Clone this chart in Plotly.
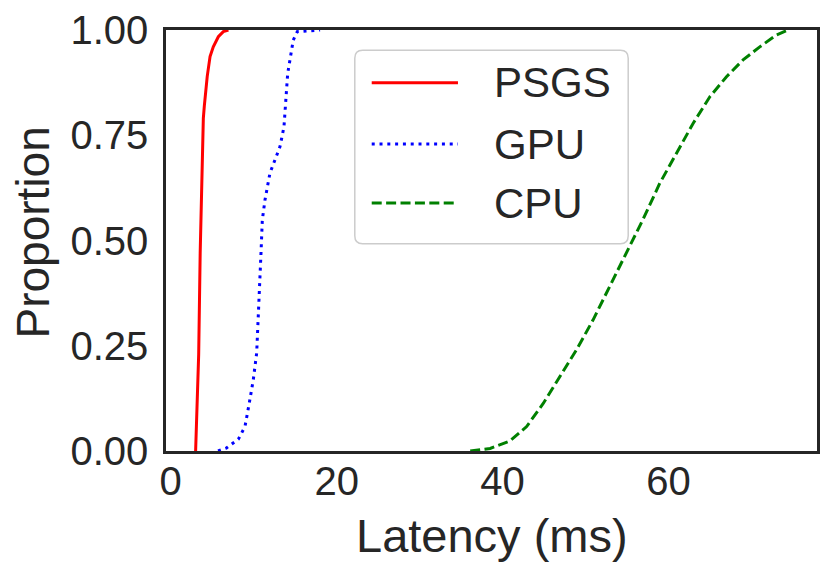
import plotly.graph_objects as go

# ECDF curves (latency in ms, cumulative proportion)
psgs_x = [3.0, 3.1, 3.25, 3.37, 3.55, 3.73, 3.93, 4.05, 4.2, 4.4, 4.74, 5.13, 5.74, 6.34, 6.95]
psgs_y = [0.0, 0.08, 0.16, 0.23, 0.47, 0.63, 0.79, 0.82, 0.85, 0.89, 0.937, 0.96, 0.984, 0.996, 1.0]

gpu_x = [5.7, 6.7, 8.15, 8.95, 9.47, 9.95, 10.36, 10.56, 10.76, 10.88, 11.04, 11.36,
         11.96, 12.57, 13.17, 13.65, 13.9, 14.1, 14.5, 14.77, 15.25, 18.0]
gpu_y = [0.0, 0.007, 0.028, 0.058, 0.114, 0.169, 0.233, 0.311, 0.39, 0.47, 0.549, 0.596,
         0.66, 0.69, 0.723, 0.77, 0.834, 0.897, 0.944, 0.976, 0.996, 1.0]

cpu_x = [36.1, 38.5, 40.9, 42.9, 44.9, 46.9, 48.9, 50.9, 52.9, 54.9, 56.9, 58.95,
         60.96, 62.96, 65.0, 66.99, 68.99, 71.0, 73.0, 74.4]
cpu_y = [0.0, 0.006, 0.024, 0.058, 0.113, 0.176, 0.24, 0.311, 0.39, 0.47, 0.549, 0.636,
         0.707, 0.778, 0.842, 0.889, 0.929, 0.96, 0.988, 1.0]

series_names = ["PSGS", "GPU", "CPU"]
x_ticks = [0, 20, 40, 60]
y_ticks = [0.0, 0.25, 0.5, 0.75, 1.0]

INK = "#262626"
FONT = "Liberation Sans, Arial, sans-serif"

styles = [
    dict(color="#ff0000", width=3, dash="solid"),
    dict(color="#0000ff", width=3, dash="3px,4.8px"),
    dict(color="#008000", width=3, dash="10px,4.4px"),
]

fig = go.Figure()
for name, xs, ys, st in zip(series_names, [psgs_x, gpu_x, cpu_x], [psgs_y, gpu_y, cpu_y], styles):
    fig.add_trace(go.Scatter(x=xs, y=ys, mode="lines", name=name, line=st, showlegend=False))

# hand-made legend (rounded box, long line samples like matplotlib)
bx0, bx1, by0, by1 = 0.290, 0.710, 0.492, 0.952
rx, ry = 0.012, 0.019
box_path = (
    f"M {bx0 + rx},{by1} L {bx1 - rx},{by1} Q {bx1},{by1} {bx1},{by1 - ry} "
    f"L {bx1},{by0 + ry} Q {bx1},{by0} {bx1 - rx},{by0} "
    f"L {bx0 + rx},{by0} Q {bx0},{by0} {bx0},{by0 + ry} "
    f"L {bx0},{by1 - ry} Q {bx0},{by1} {bx0 + rx},{by1} Z"
)
shapes = [dict(type="path", path=box_path, xref="paper", yref="paper",
               fillcolor="rgba(255,255,255,0.8)", line=dict(color="#cccccc", width=1.5), layer="above")]
annotations = []
entry_y = [0.875, 0.729, 0.589]
for name, st, ey in zip(series_names, styles, entry_y):
    shapes.append(dict(type="line", xref="paper", yref="paper", x0=0.316, x1=0.4485, y0=ey, y1=ey,
                       line=st, layer="above"))
    annotations.append(dict(text=name, xref="paper", yref="paper", x=0.5, y=ey,
                            xanchor="left", yanchor="middle", showarrow=False,
                            font=dict(size=42, color=INK, family=FONT)))

annotations.append(dict(text="Latency (ms)", xref="paper", yref="paper", x=0.5, y=-0.2,
                        xanchor="center", yanchor="middle", showarrow=False,
                        font=dict(size=47, color=INK, family=FONT)))
annotations.append(dict(text="Proportion", xref="paper", yref="paper", x=-0.205, y=0.518,
                        xanchor="center", yanchor="middle", textangle=-90, showarrow=False,
                        font=dict(size=46, color=INK, family=FONT)))

# page body keeps an 8px margin, so the figure is 8px smaller each way
fig.update_layout(
    width=823, height=567,
    margin=dict(l=158, r=14, t=22, b=124),
    paper_bgcolor="white", plot_bgcolor="white",
    font=dict(family=FONT, color=INK, size=40),
    shapes=shapes, annotations=annotations,
)
fig.update_xaxes(range=[-0.57, 77.9], tickvals=x_ticks, showgrid=False, zeroline=False,
                 showline=True, mirror=True, linecolor=INK, linewidth=2.5, automargin=False,
                 ticks="", ticklen=0, ticklabelstandoff=-7, tickfont=dict(size=40))
fig.update_yaxes(range=[0, 1], tickvals=y_ticks, tickformat=".2f", showgrid=False, zeroline=False,
                 showline=True, mirror=True, linecolor=INK, linewidth=2.5, automargin=False,
                 ticks="", ticklen=0, ticklabelstandoff=7, tickfont=dict(size=40))

fig.write_html("out.html")
